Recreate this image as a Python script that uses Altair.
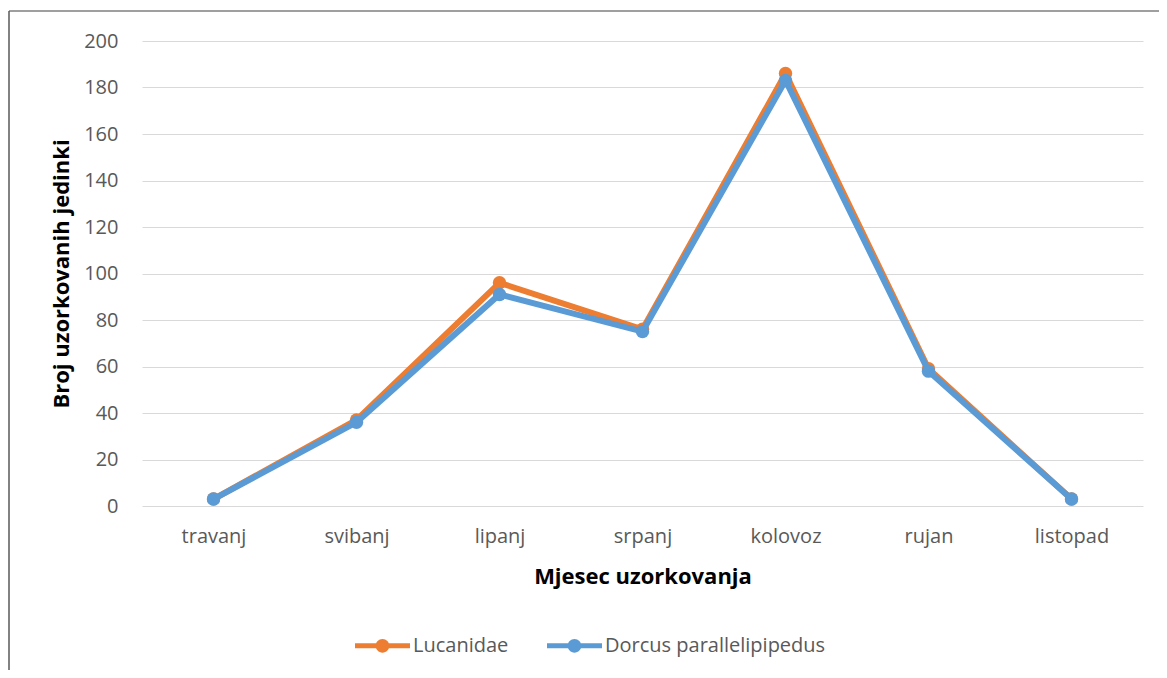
import altair as alt
import pandas as pd

months = ["travanj", "svibanj", "lipanj", "srpanj", "kolovoz", "rujan", "listopad"]
lucanidae = [3, 37, 96, 76, 186, 59, 3]
dorcus = [3, 36, 91, 75, 183, 58, 3]
series = ["Lucanidae", "Dorcus parallelipipedus"]
colors = ["#ED7D31", "#5B9BD5"]
y_ticks = [0, 20, 40, 60, 80, 100, 120, 140, 160, 180, 200]

rows = []
for name, vals in zip(series, [lucanidae, dorcus]):
    for m, v in zip(months, vals):
        rows.append({"mjesec": m, "broj": v, "serija": name})
df = pd.DataFrame(rows)

FONT = "Open Sans"
W, H = 1001, 465

legend_path = ("M-1,-0.09 L1,-0.09 L1,0.09 L-1,0.09 Z "
               "M-0.25,0 A0.25,0.25 0 1,1 0.25,0 A0.25,0.25 0 1,1 -0.25,0 Z")

x_enc = alt.X("mjesec:N", sort=months,
              scale=alt.Scale(type="point", padding=0.5),
              axis=alt.Axis(title="Mjesec uzorkovanja", labelAngle=0,
                            labelPadding=20, ticks=False, domain=False, grid=False,
                            titleBaseline="alphabetic", titleY=77))
y_enc = alt.Y("broj:Q", scale=alt.Scale(domain=[0, 200], nice=False),
              axis=alt.Axis(title="Broj uzorkovanih jedinki", values=y_ticks,
                            labelPadding=24, ticks=False, domain=False,
                            grid=True, gridColor="#D9D9D9", gridWidth=1,
                            titleBaseline="alphabetic", titleAngle=270,
                            titleX=-74, titleY=H / 2, titleAlign="center"))
legend = alt.Legend(title=None, orient="none", direction="horizontal",
                    legendX=213, legendY=577, symbolType=legend_path,
                    symbolSize=3025, symbolStrokeWidth=0, symbolOpacity=1,
                    labelOffset=3, columnPadding=38, padding=0, labelLimit=500,
                    labelFont=FONT, labelFontSize=20, labelColor="#595959")
color_enc = alt.Color("serija:N", scale=alt.Scale(domain=series, range=colors), legend=legend)

base = alt.Chart(df)
layers = []
for name in series:
    sub = base.transform_filter(alt.datum.serija == name)
    layers.append(sub.mark_line(strokeWidth=6).encode(x=x_enc, y=y_enc, color=color_enc))
    layers.append(sub.mark_point(filled=True, size=180, opacity=1).encode(x=x_enc, y=y_enc, color=color_enc))

border_df = pd.DataFrame({"a": [0]})
top_border = alt.Chart(border_df).mark_rule(color="#404040", strokeWidth=1.2).encode(
    x=alt.value(-133), x2=alt.value(1030), y=alt.value(-30))
left_border = alt.Chart(border_df).mark_rule(color="#595959", strokeWidth=1.5).encode(
    x=alt.value(-133), y=alt.value(-30), y2=alt.value(640))

chart = alt.layer(top_border, left_border, *layers).properties(
    width=W, height=H,
    autosize=alt.AutoSizeParams(type="none"),
    padding={"left": 134, "top": 33, "right": 16, "bottom": 164},
    background="white",
).configure_view(stroke=None).configure_axis(
    labelFont=FONT, labelFontSize=20, labelColor="#595959",
    titleFont=FONT, titleFontSize=22, titleFontWeight="bold", titleColor="#000000",
)

chart.save("out.html", embed_options={"renderer": "svg", "actions": False})
